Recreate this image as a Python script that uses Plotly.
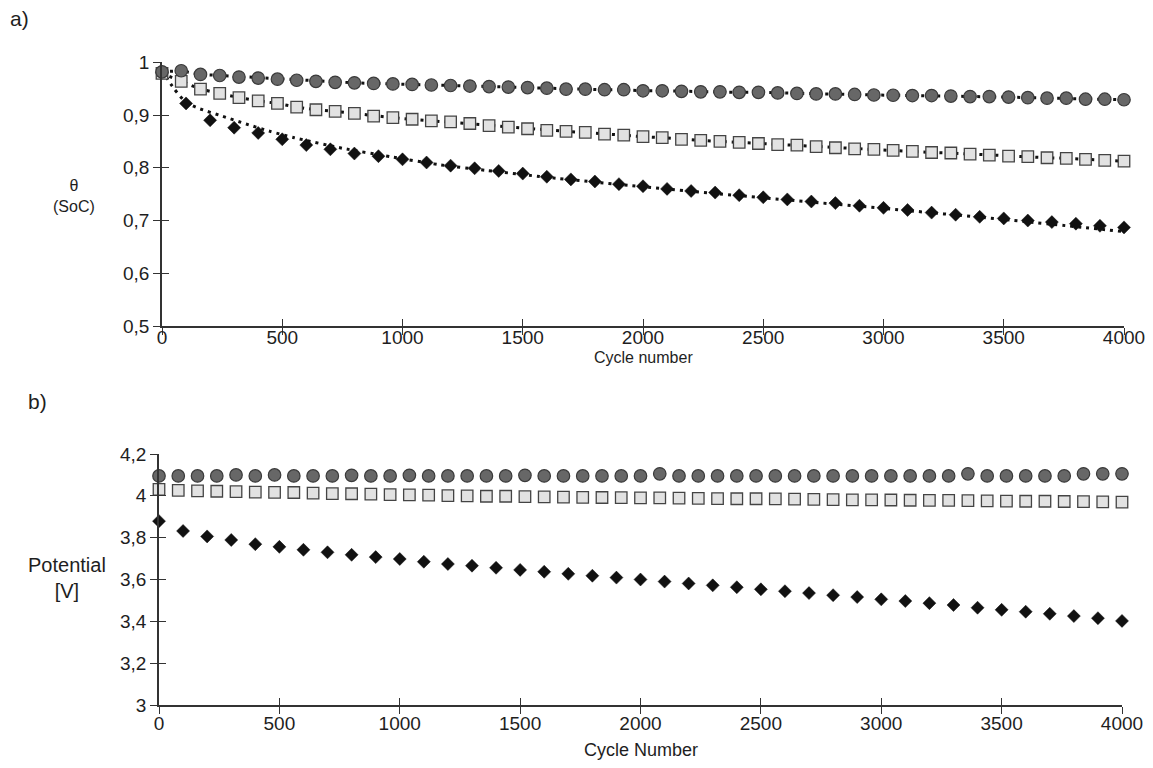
import plotly.graph_objects as go

# ---------------- data ----------------
cycles_80 = [0, 80, 160, 240, 320, 400, 480, 560, 640, 720, 800, 880, 960, 1040, 1120, 1200, 1280,
             1360, 1440, 1520, 1600, 1680, 1760, 1840, 1920, 2000, 2080, 2160, 2240, 2320, 2400,
             2480, 2560, 2640, 2720, 2800, 2880, 2960, 3040, 3120, 3200, 3280, 3360, 3440, 3520,
             3600, 3680, 3760, 3840, 3920, 4000]
cycles_100 = [0, 100, 200, 300, 400, 500, 600, 700, 800, 900, 1000, 1100, 1200, 1300, 1400, 1500,
              1600, 1700, 1800, 1900, 2000, 2100, 2200, 2300, 2400, 2500, 2600, 2700, 2800, 2900,
              3000, 3100, 3200, 3300, 3400, 3500, 3600, 3700, 3800, 3900, 4000]

# panel a) state of charge
soc_circle = [0.982, 0.984, 0.977, 0.975, 0.972, 0.970, 0.968, 0.966, 0.964, 0.962, 0.961, 0.960,
              0.959, 0.958, 0.957, 0.956, 0.955, 0.954, 0.953, 0.952, 0.951, 0.949, 0.949, 0.948,
              0.948, 0.946, 0.946, 0.945, 0.944, 0.944, 0.943, 0.943, 0.942, 0.941, 0.940, 0.940,
              0.939, 0.938, 0.9375, 0.937, 0.937, 0.936, 0.935, 0.935, 0.934, 0.933, 0.932, 0.932,
              0.930, 0.930, 0.929]
soc_square = [0.979, 0.964, 0.949, 0.941, 0.933, 0.927, 0.922, 0.915, 0.910, 0.907, 0.903, 0.898,
              0.895, 0.892, 0.889, 0.887, 0.884, 0.880, 0.877, 0.874, 0.871, 0.869, 0.867, 0.864,
              0.862, 0.859, 0.857, 0.854, 0.852, 0.850, 0.848, 0.846, 0.844, 0.843, 0.840, 0.838,
              0.836, 0.835, 0.833, 0.831, 0.829, 0.828, 0.826, 0.824, 0.822, 0.821, 0.819, 0.818,
              0.816, 0.814, 0.8125]
soc_diamond = [0.980, 0.922, 0.890, 0.876, 0.866, 0.854, 0.843, 0.835, 0.827, 0.822, 0.816, 0.810,
               0.804, 0.799, 0.794, 0.789, 0.783, 0.778, 0.774, 0.769, 0.765, 0.760, 0.756, 0.753,
               0.748, 0.744, 0.740, 0.736, 0.733, 0.728, 0.724, 0.720, 0.715, 0.711, 0.707, 0.704,
               0.700, 0.697, 0.694, 0.690, 0.687]
trend_x = [0, 50, 100, 150, 250, 350, 450, 550, 750, 950, 1150, 1350, 1600, 2000, 2500, 3000, 3500, 4000]
trend_diamond = [0.985, 0.950, 0.924, 0.913, 0.898, 0.883, 0.869, 0.857, 0.837, 0.821, 0.806, 0.795,
                 0.782, 0.764, 0.743, 0.723, 0.702, 0.679]

# panel b) potential
pot_circle = [4.095, 4.095, 4.095, 4.095, 4.100, 4.095, 4.100, 4.095, 4.095, 4.095, 4.098, 4.095,
              4.095, 4.098, 4.095, 4.095, 4.095, 4.095, 4.095, 4.098, 4.095, 4.095, 4.095, 4.095,
              4.095, 4.095, 4.105, 4.095, 4.095, 4.095, 4.095, 4.095, 4.095, 4.095, 4.095, 4.095,
              4.095, 4.095, 4.095, 4.095, 4.095, 4.095, 4.105, 4.095, 4.095, 4.095, 4.095, 4.095,
              4.105, 4.105, 4.105]
pot_square = [4.031, 4.026, 4.024, 4.022, 4.020, 4.018, 4.017, 4.016, 4.013, 4.011, 4.010, 4.008,
              4.006, 4.005, 4.003, 4.001, 4.000, 3.998, 3.998, 3.996, 3.995, 3.994, 3.993, 3.992,
              3.991, 3.990, 3.990, 3.989, 3.988, 3.987, 3.986, 3.986, 3.985, 3.984, 3.983, 3.982,
              3.981, 3.981, 3.980, 3.979, 3.978, 3.978, 3.977, 3.976, 3.975, 3.974, 3.974, 3.973,
              3.972, 3.971, 3.970]
pot_diamond = [3.879, 3.832, 3.806, 3.789, 3.769, 3.756, 3.742, 3.730, 3.718, 3.707, 3.698, 3.685,
               3.674, 3.666, 3.656, 3.646, 3.637, 3.627, 3.618, 3.609, 3.600, 3.590, 3.581, 3.572,
               3.563, 3.553, 3.544, 3.535, 3.525, 3.516, 3.505, 3.497, 3.487, 3.478, 3.465, 3.455,
               3.446, 3.436, 3.425, 3.415, 3.402]

x_ticks = [0, 500, 1000, 1500, 2000, 2500, 3000, 3500, 4000]
x_ticktext = ["0", "500", "1000", "1500", "2000", "2500", "3000", "3500", "4000"]
ya_ticks = [0.5, 0.6, 0.7, 0.8, 0.9, 1.0]
ya_ticktext = ["0,5", "0,6", "0,7", "0,8", "0,9", "1"]
yb_ticks = [3.0, 3.2, 3.4, 3.6, 3.8, 4.0, 4.2]
yb_ticktext = ["3", "3,2", "3,4", "3,6", "3,8", "4", "4,2"]

# ---------------- styles ----------------
FONT = "Liberation Sans, Arial, sans-serif"
AXC = "#333333"
TXT = "#1e1e1e"
circle_m = dict(symbol="circle", size=12.5, color="#676767", line=dict(color="#3a3a3a", width=1.2))
square_m = dict(symbol="square", size=11.5, color="#e2e2e2", line=dict(color="#444444", width=1.3))
diamond_m = dict(symbol="diamond", size=10, color="#111111", line=dict(color="#111111", width=0.5))
dot_line = dict(color="#111111", width=3, dash="3px,5px")

fig = go.Figure()

# panel a
fig.add_trace(go.Scatter(x=trend_x, y=trend_diamond, mode="lines", line=dict(**dot_line, shape="spline", smoothing=0.6),
                         xaxis="x", yaxis="y", cliponaxis=False, showlegend=False, hoverinfo="skip"))
fig.add_trace(go.Scatter(x=cycles_100, y=soc_diamond, mode="markers", marker=diamond_m,
                         xaxis="x", yaxis="y", cliponaxis=False, showlegend=False))
fig.add_trace(go.Scatter(x=cycles_80, y=soc_square, mode="lines+markers", marker=square_m, line=dot_line,
                         xaxis="x", yaxis="y", cliponaxis=False, showlegend=False))
fig.add_trace(go.Scatter(x=cycles_80, y=soc_circle, mode="lines+markers", marker=circle_m, line=dot_line,
                         xaxis="x", yaxis="y", cliponaxis=False, showlegend=False))

# panel b
fig.add_trace(go.Scatter(x=cycles_100, y=pot_diamond, mode="markers", marker=diamond_m,
                         xaxis="x2", yaxis="y2", cliponaxis=False, showlegend=False))
fig.add_trace(go.Scatter(x=cycles_80, y=pot_square, mode="markers", marker=square_m,
                         xaxis="x2", yaxis="y2", cliponaxis=False, showlegend=False))
fig.add_trace(go.Scatter(x=cycles_80, y=pot_circle, mode="markers", marker=circle_m,
                         xaxis="x2", yaxis="y2", cliponaxis=False, showlegend=False))

# empty traces so the overlay axes (inner half of the crossing ticks) get drawn
fig.add_trace(go.Scatter(x=[], y=[], xaxis="x3", yaxis="y3", showlegend=False))
fig.add_trace(go.Scatter(x=[], y=[], xaxis="x4", yaxis="y4", showlegend=False))

# figure sized so that it fits the 1153x768 window together with the page's 8px body margin
OFF = 8
W, H = 1153 - 2 * OFF, 768 - 2 * OFF
def px(xp):
    return (xp - OFF) / W
def py(yp):
    return 1 - (yp - OFF) / H

common = dict(showgrid=False, zeroline=False, showline=True, linecolor=AXC, linewidth=1.5,
              ticks="outside", ticklen=7, tickwidth=1.3, tickcolor=AXC, automargin=False,
              ticklabeloverflow="allow",
              tickfont=dict(family=FONT, size=19, color=TXT))
inner = dict(showgrid=False, zeroline=False, showline=False, ticks="inside", ticklen=7,
             tickwidth=1.3, tickcolor=AXC, showticklabels=False, automargin=False)

xa_dom = [px(162), px(1124)]
ya_dom = [py(326), py(62.3)]
xb_dom = [px(159), px(1122)]
yb_dom = [py(705), py(454)]

fig.update_layout(
    width=W, height=H,
    margin=dict(l=0, r=0, t=0, b=0, pad=0, autoexpand=False),
    paper_bgcolor="white", plot_bgcolor="white",
    font=dict(family=FONT, color=TXT),
    xaxis=dict(domain=xa_dom, anchor="y", range=[0, 4000], tickmode="array", tickvals=x_ticks,
               ticktext=x_ticktext, **common),
    yaxis=dict(domain=ya_dom, anchor="x", range=[0.5, 1.0], tickmode="array", tickvals=ya_ticks,
               ticktext=ya_ticktext, **common),
    xaxis2=dict(domain=xb_dom, anchor="y2", range=[0, 4000], tickmode="array", tickvals=x_ticks,
                ticktext=x_ticktext, **common),
    yaxis2=dict(domain=yb_dom, anchor="x2", range=[3.0, 4.2], tickmode="array", tickvals=yb_ticks,
                ticktext=yb_ticktext, **common),
    xaxis3=dict(overlaying="x", anchor="y", range=[0, 4000], tickmode="array", tickvals=x_ticks, **inner),
    yaxis3=dict(overlaying="y", anchor="x", range=[0.5, 1.0], tickmode="array", tickvals=ya_ticks, **inner),
    xaxis4=dict(overlaying="x2", anchor="y2", range=[0, 4000], tickmode="array", tickvals=x_ticks, **inner),
    yaxis4=dict(overlaying="y2", anchor="x2", range=[3.0, 4.2], tickmode="array", tickvals=yb_ticks, **inner),
    annotations=[
        dict(text="a)", x=px(8), y=py(18), xref="paper", yref="paper", xanchor="left", yanchor="middle",
             showarrow=False, font=dict(family=FONT, size=21, color=TXT)),
        dict(text="b)", x=px(26), y=py(401), xref="paper", yref="paper", xanchor="left", yanchor="middle",
             showarrow=False, font=dict(family=FONT, size=21, color=TXT)),
        dict(text="θ<br>(SoC)", x=px(74), y=py(196), xref="paper", yref="paper", xanchor="center",
             yanchor="middle", showarrow=False, font=dict(family=FONT, size=16, color=TXT)),
        dict(text="Potential<br>[V]", x=px(67), y=py(578), xref="paper", yref="paper", xanchor="center",
             yanchor="middle", showarrow=False, font=dict(family=FONT, size=20, color=TXT)),
        dict(text="Cycle number", x=px(643), y=py(357.5), xref="paper", yref="paper", xanchor="center",
             yanchor="middle", showarrow=False, font=dict(family=FONT, size=16, color=TXT)),
        dict(text="Cycle Number", x=px(641), y=py(750), xref="paper", yref="paper", xanchor="center",
             yanchor="middle", showarrow=False, font=dict(family=FONT, size=18, color=TXT)),
    ],
)

# pull the x tick labels up close to the axis, as in the reference
try:
    fig.update_layout(xaxis=dict(ticklabelstandoff=-14), xaxis2=dict(ticklabelstandoff=-7))
except ValueError:
    pass

fig.write_html("out.html")
